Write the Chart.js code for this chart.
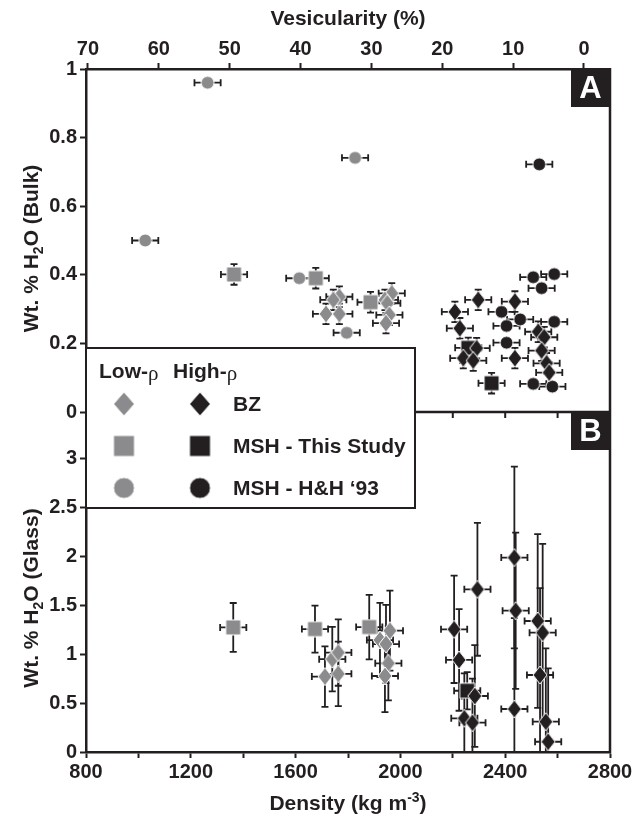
<!DOCTYPE html>
<html>
<head>
<meta charset="utf-8">
<script src="https://cdn.jsdelivr.net/npm/chart.js@4.4.1/dist/chart.umd.min.js"></script>
<style>
  html, body { margin: 0; padding: 0; background: #fff; }
  canvas { display: block; }
</style>
</head>
<body>
<canvas id="chart" width="636" height="818"></canvas>
<script>
// [density kg/m3, wt% H2O] -- panel A, bulk water
const lowBzBulk = [[1767, 0.336], [1744, 0.327], [1716, 0.286], [1767, 0.286], [1967, 0.346], [1941, 0.327], [1950, 0.317], [1958, 0.283], [1945, 0.259]];
const lowMshBulk = [[1365, 0.401], [1677, 0.390], [1886, 0.320]];
const lowHhBulk = [[1264, 0.960], [1827, 0.741], [1026, 0.500], [1614, 0.390], [1795, 0.231]];
const highBzBulk = [[2208, 0.292], [2297, 0.327], [2227, 0.244], [2291, 0.186], [2240, 0.157], [2278, 0.150], [2437, 0.322], [2437, 0.157], [2526, 0.234], [2549, 0.218], [2539, 0.179], [2558, 0.142], [2568, 0.115]];
const highMshBulk = [[2259, 0.187], [2348, 0.084]];
const highHhBulk = [[2386, 0.292], [2405, 0.251], [2457, 0.270], [2405, 0.202], [2507, 0.393], [2587, 0.402], [2539, 0.361], [2587, 0.263], [2507, 0.082], [2580, 0.074], [2530, 0.722]];

// [density kg/m3, wt% H2O, +/- H2O] -- panel B, glass water
const lowBzGlass = [[1712, 0.772, 0.31], [1740, 0.950, 0.33], [1763, 1.018, 0.34], [1763, 0.800, 0.33], [1960, 1.242, 0.41], [1922, 1.146, 0.38], [1945, 1.105, 0.40], [1954, 0.908, 0.38], [1941, 0.778, 0.37]];
const lowMshGlass = [[1362, 1.275, 0.25], [1674, 1.258, 0.24], [1881, 1.279, 0.33]];
const highBzGlass = [[2205, 1.256, 0.55], [2224, 0.942, 0.52], [2294, 1.665, 0.68], [2284, 0.573, 0.52], [2244, 0.345, 0.46], [2275, 0.300, 0.45], [2435, 1.990, 0.93], [2440, 1.446, 0.80], [2435, 0.440, 0.93], [2524, 1.341, 0.89], [2543, 1.221, 0.91], [2533, 0.788, 0.89], [2555, 0.310, 0.75], [2564, 0.105, 0.75]];
const highMshGlass = [[2255, 0.627, 0.19]];

const DENSITY_ERR = 50;
const BULK_ERR = 0.03;

const densityTicks = [800, 1000, 1200, 1400, 1600, 1800, 2000, 2200, 2400, 2600, 2800];
const densityLabels = [800, 1200, 1600, 2000, 2400, 2800];
const vesicularityTicks = [70, 60, 50, 40, 30, 20, 10, 0];
const bulkTicks = [0, 0.2, 0.4, 0.6, 0.8, 1];
const glassTicks = [0, 0.5, 1, 1.5, 2, 2.5, 3];

const INK = '#231f20';
const GRAY = '#8b8b8e';
const FONT = '"Liberation Sans", Arial, sans-serif';

function makeMarker(shape, fill, w, h) {
  const c = document.createElement('canvas');
  c.width = w + 2;
  c.height = h + 2;
  const g = c.getContext('2d');
  const cx = c.width / 2, cy = c.height / 2;
  g.beginPath();
  if (shape === 'diamond') {
    g.moveTo(cx, cy - h / 2); g.lineTo(cx + w / 2, cy); g.lineTo(cx, cy + h / 2); g.lineTo(cx - w / 2, cy); g.closePath();
  } else if (shape === 'square') {
    g.rect(cx - w / 2, cy - h / 2, w, h);
  } else {
    g.arc(cx, cy, w / 2, 0, Math.PI * 2);
  }
  g.fillStyle = fill;
  g.fill();
  g.strokeStyle = '#fff';
  g.lineWidth = 1;
  g.stroke();
  return c;
}

const marks = {
  lowDiamond: makeMarker('diamond', GRAY, 14, 18),
  highDiamond: makeMarker('diamond', INK, 14, 18),
  lowSquare: makeMarker('square', GRAY, 15, 15),
  highSquare: makeMarker('square', INK, 15, 15),
  lowCircle: makeMarker('circle', GRAY, 13, 13),
  highCircle: makeMarker('circle', INK, 13, 13)
};

function series(label, rows, axis, mark, hasYErr) {
  return {
    label: label,
    data: rows.map(r => ({ x: r[0], y: r[1] })),
    yAxisID: axis,
    xAxisID: 'x',
    pointStyle: mark,
    pointRadius: 8,
    pointHoverRadius: 8,
    showLine: false,
    xErr: rows.map(() => DENSITY_ERR),
    yErr: rows.map(r => r.length > 2 ? r[2] : (hasYErr ? BULK_ERR : 0))
  };
}

const errorBars = {
  id: 'errorBars',
  beforeDatasetsDraw(chart) {
    const ctx = chart.ctx, xs = chart.scales.x, a = chart.chartArea;
    ctx.save();
    ctx.beginPath();
    ctx.rect(a.left, a.top, a.right - a.left, a.bottom - a.top);
    ctx.clip();
    ctx.strokeStyle = INK;
    ctx.lineWidth = 1.8;
    chart.data.datasets.forEach(ds => {
      const ys = chart.scales[ds.yAxisID];
      ds.data.forEach((p, i) => {
        const px = xs.getPixelForValue(p.x), py = ys.getPixelForValue(p.y);
        const l = xs.getPixelForValue(p.x - ds.xErr[i]), r = xs.getPixelForValue(p.x + ds.xErr[i]);
        ctx.beginPath();
        ctx.moveTo(l, py); ctx.lineTo(r, py);
        ctx.moveTo(l, py - 3.5); ctx.lineTo(l, py + 3.5);
        ctx.moveTo(r, py - 3.5); ctx.lineTo(r, py + 3.5);
        if (ds.yErr[i]) {
          const t = ys.getPixelForValue(p.y + ds.yErr[i]);
          const b = Math.min(ys.getPixelForValue(p.y - ds.yErr[i]), ys.bottom);
          ctx.moveTo(px, t); ctx.lineTo(px, b);
          ctx.moveTo(px - 3.5, t); ctx.lineTo(px + 3.5, t);
          if (p.y - ds.yErr[i] > ys.min) { ctx.moveTo(px - 3.5, b); ctx.lineTo(px + 3.5, b); }
        }
        ctx.stroke();
      });
    });
    ctx.restore();
  }
};

function rich(ctx, parts, cx, cy, angle) {
  ctx.save();
  ctx.translate(cx, cy);
  ctx.rotate(angle);
  ctx.textAlign = 'left';
  ctx.textBaseline = 'alphabetic';
  let total = 0;
  parts.forEach(p => { ctx.font = p.font; p.w = ctx.measureText(p.text).width; total += p.w; });
  let x = -total / 2;
  parts.forEach(p => { ctx.font = p.font; ctx.fillText(p.text, x, 7.5 + (p.dy || 0)); x += p.w; });
  ctx.restore();
}

const frame = {
  id: 'frame',
  beforeDatasetsDraw(chart) {
    const ctx = chart.ctx, a = chart.chartArea, xs = chart.scales.x;
    const sep = chart.scales.yA.bottom;
    ctx.save();
    ctx.strokeStyle = INK;
    ctx.lineWidth = 2.5;
    ctx.beginPath();
    ctx.moveTo(a.right, a.top - 1); ctx.lineTo(a.right, a.bottom + 1);
    ctx.moveTo(a.left, sep); ctx.lineTo(a.right, sep);
    ctx.stroke();
    ctx.lineWidth = 2;
    ctx.beginPath();
    densityTicks.forEach(v => {
      const px = xs.getPixelForValue(v);
      if (v > 800 && v < 2800) { ctx.moveTo(px, sep); ctx.lineTo(px, sep + 6); }
    });
    ctx.stroke();
    ctx.restore();
  },
  afterDraw(chart) {
    const ctx = chart.ctx, a = chart.chartArea;
    const yA = chart.scales.yA, yB = chart.scales.yB;
    ctx.save();
    ctx.fillStyle = INK;
    const big = 'bold 21px ' + FONT, sub = 'bold 14px ' + FONT;

    // axis titles
    rich(ctx, [{ text: 'Vesicularity (%)', font: big }], (a.left + a.right) / 2, 17, 0);
    rich(ctx, [{ text: 'Density (kg m', font: big }, { text: '-3', font: sub, dy: -8 }, { text: ')', font: big }], (a.left + a.right) / 2, 802, 0);
    rich(ctx, [{ text: 'Wt. % H', font: big }, { text: '2', font: sub, dy: 5 }, { text: 'O (Bulk)', font: big }], 30, (yA.top + yA.bottom) / 2 + 8, -Math.PI / 2);
    rich(ctx, [{ text: 'Wt. % H', font: big }, { text: '2', font: sub, dy: 5 }, { text: 'O (Glass)', font: big }], 30, (yB.top + yB.bottom) / 2 + 16, -Math.PI / 2);

    // panel tags
    [['A', yA.top], ['B', yB.top]].forEach(([t, top]) => {
      ctx.fillStyle = INK;
      ctx.fillRect(a.right - 39, top, 39, 38);
      ctx.fillStyle = '#fff';
      ctx.font = 'bold 31px ' + FONT;
      ctx.textAlign = 'center';
      ctx.textBaseline = 'middle';
      ctx.fillText(t, a.right - 19.5, top + 20);
    });

    // legend
    const lx = a.left, ly = 348, lw = 415 - a.left, lh = 160;
    ctx.fillStyle = '#fff';
    ctx.fillRect(lx, ly, lw, lh);
    ctx.strokeStyle = INK;
    ctx.lineWidth = 2;
    ctx.strokeRect(lx, ly, lw, lh);
    ctx.fillStyle = INK;
    ctx.textAlign = 'left';
    ctx.textBaseline = 'middle';
    const rho = '21px "Liberation Serif", serif';
    ctx.font = big; ctx.fillText('Low-', 99, 372);
    let w = ctx.measureText('Low-').width;
    ctx.font = rho; ctx.fillText('\u03c1', 99 + w, 374);
    ctx.font = big; ctx.fillText('High-', 173, 372);
    w = ctx.measureText('High-').width;
    ctx.font = rho; ctx.fillText('\u03c1', 173 + w, 374);

    const rows = [
      ['BZ', 404, makeMarker('diamond', GRAY, 21, 24), makeMarker('diamond', INK, 21, 24)],
      ['MSH - This Study', 446, makeMarker('square', GRAY, 21, 21), makeMarker('square', INK, 21, 21)],
      ['MSH - H&H \u201893', 488, makeMarker('circle', GRAY, 21, 21), makeMarker('circle', INK, 21, 21)]
    ];
    rows.forEach(([label, y, lo, hi]) => {
      ctx.drawImage(lo, 124 - lo.width / 2, y - lo.height / 2);
      ctx.drawImage(hi, 200 - hi.width / 2, y - hi.height / 2);
      ctx.font = big;
      ctx.fillText(label, 233, y + 1);
    });
    ctx.restore();
  }
};

function axisStyle() {
  return {
    grid: { drawOnChartArea: false, drawTicks: true, tickLength: 6, tickWidth: 2, tickColor: INK },
    border: { display: true, width: 2.5, color: INK }
  };
}

Chart.defaults.font.family = FONT;
Chart.defaults.font.size = 20;
Chart.defaults.font.weight = 'bold';
Chart.defaults.color = INK;

new Chart(document.getElementById('chart').getContext('2d'), {
  type: 'scatter',
  data: {
    datasets: [
      series('Low-ρ BZ (bulk)', lowBzBulk, 'yA', marks.lowDiamond, true),
      series('Low-ρ MSH this study (bulk)', lowMshBulk, 'yA', marks.lowSquare, true),
      series('Low-ρ MSH H&H 93 (bulk)', lowHhBulk, 'yA', marks.lowCircle, false),
      series('High-ρ BZ (bulk)', highBzBulk, 'yA', marks.highDiamond, true),
      series('High-ρ MSH this study (bulk)', highMshBulk, 'yA', marks.highSquare, true),
      series('High-ρ MSH H&H 93 (bulk)', highHhBulk, 'yA', marks.highCircle, false),
      series('Low-ρ BZ (glass)', lowBzGlass, 'yB', marks.lowDiamond, true),
      series('Low-ρ MSH this study (glass)', lowMshGlass, 'yB', marks.lowSquare, true),
      series('High-ρ BZ (glass)', highBzGlass, 'yB', marks.highDiamond, true),
      series('High-ρ MSH this study (glass)', highMshGlass, 'yB', marks.highSquare, true)
    ]
  },
  options: {
    responsive: false,
    animation: false,
    events: [],
    layout: { padding: { left: 0, right: 26, top: 0, bottom: 0 } },
    plugins: { legend: { display: false }, tooltip: { enabled: false } },
    scales: {
      x: {
        type: 'linear', position: 'bottom', min: 800, max: 2800,
        afterBuildTicks: s => { s.ticks = densityTicks.map(v => ({ value: v })); },
        afterFit: s => { s.height = 66; },
        ticks: { autoSkip: false, maxRotation: 0, padding: 2, callback: v => densityLabels.includes(v) ? String(v) : '' },
        ...axisStyle()
      },
      x2: {
        type: 'linear', position: 'top', reverse: true, min: -3.67, max: 70.28,
        afterBuildTicks: s => { s.ticks = vesicularityTicks.map(v => ({ value: v })); },
        afterFit: s => { s.height = 69; },
        ticks: { autoSkip: false, maxRotation: 0, padding: 2, callback: v => String(v) },
        ...axisStyle()
      },
      yB: {
        type: 'linear', position: 'left', stack: 'panels', stackWeight: 340, min: 0, max: 3.48,
        afterBuildTicks: s => { s.ticks = glassTicks.map(v => ({ value: v })); },
        afterFit: s => { s.width = 86; },
        ticks: { autoSkip: false, padding: 3, callback: v => String(v) },
        ...axisStyle()
      },
      yA: {
        type: 'linear', position: 'left', stack: 'panels', stackWeight: 343, min: 0, max: 1,
        afterBuildTicks: s => { s.ticks = bulkTicks.map(v => ({ value: v })); },
        afterFit: s => { s.width = 86; },
        ticks: { autoSkip: false, padding: 3, callback: v => String(v) },
        ...axisStyle()
      }
    }
  },
  plugins: [errorBars, frame]
});
</script>
</body>
</html>
